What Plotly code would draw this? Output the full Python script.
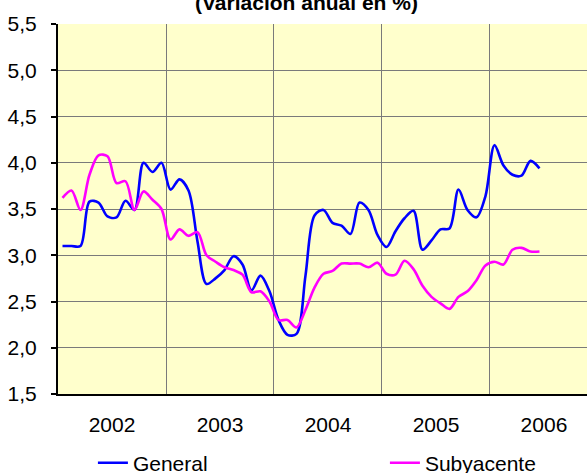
import plotly.graph_objects as go

# Monthly data Jan 2002 - Jun 2006 (annual % change)
months = list(range(54))  # month index from Jan 2002
general = [3.10, 3.10, 3.10, 3.58, 3.57, 3.42, 3.41, 3.59, 3.49, 4.00, 3.90, 4.00,
           3.71, 3.82, 3.70, 3.15, 2.69, 2.75, 2.84, 2.99, 2.90, 2.62, 2.78, 2.61,
           2.30, 2.14, 2.15, 2.78, 3.43, 3.49, 3.35, 3.32, 3.23, 3.57, 3.49, 3.22,
           3.09, 3.26, 3.40, 3.48, 3.06, 3.16, 3.28, 3.29, 3.71, 3.49, 3.41, 3.64,
           4.19, 3.97, 3.87, 3.86, 4.02, 3.94]
subyacente = [3.62, 3.70, 3.49, 3.87, 4.08, 4.07, 3.78, 3.80, 3.49, 3.69, 3.60, 3.50,
              3.17, 3.28, 3.21, 3.25, 3.00, 2.93, 2.87, 2.84, 2.79, 2.60, 2.61, 2.50,
              2.30, 2.30, 2.22, 2.41, 2.65, 2.80, 2.83, 2.91, 2.91, 2.91, 2.87, 2.92,
              2.80, 2.79, 2.94, 2.85, 2.67, 2.55, 2.48, 2.42, 2.55, 2.61, 2.73, 2.89,
              2.93, 2.90, 3.06, 3.08, 3.04, 3.04]
years = ["2002", "2003", "2004", "2005", "2006"]
year_starts = [0, 12, 24, 36, 48]
title_text = "<b>(Variación anual en %)</b>"

x = [m + 0.5 for m in months]
FONT = "Liberation Sans, Arial, sans-serif"

fig = go.Figure()
fig.add_trace(go.Scatter(x=x, y=general, name="General", mode="lines", legend="legend",
                         line=dict(color="#0000FF", width=2.6, shape="spline", smoothing=0.9)))
fig.add_trace(go.Scatter(x=x, y=subyacente, name="Subyacente", mode="lines", legend="legend2",
                         line=dict(color="#FF00FF", width=2.6, shape="spline", smoothing=0.9)))

leg_common = dict(orientation="h", xanchor="left",
                  yref="container", y=0.021, yanchor="middle",
                  font=dict(family=FONT, size=21, color="black"),
                  bgcolor="rgba(0,0,0,0)", borderwidth=0)

fig.update_layout(
    width=587, height=473,
    margin=dict(l=58, r=0, t=24, b=79, autoexpand=False),
    paper_bgcolor="white",
    plot_bgcolor="#FFFFCC",
    separators=",.",
    font=dict(family=FONT, size=21, color="black"),
    showlegend=True,
    legend=dict(x=0.066, **leg_common),
    legend2=dict(x=0.618, **leg_common),
)
fig.add_annotation(text=title_text, xref="paper", yref="paper", x=0.469, y=1,
                   xanchor="center", yanchor="bottom", yshift=8, showarrow=False,
                   font=dict(family=FONT, size=21, color="black"))

fig.update_xaxes(
    range=[0, 58.78],
    tickmode="array",
    tickvals=[s + 6 for s in year_starts],
    ticktext=years,
    ticks="", showgrid=False,
    minor=dict(tickmode="array", tickvals=year_starts[1:], showgrid=True,
               gridcolor="#7a7a7a", gridwidth=1, ticks=""),
    showline=True, linecolor="black", linewidth=2,
    zeroline=False, automargin=False,
    ticklabelstandoff=11,
    tickfont=dict(family=FONT, size=21, color="black"),
)
fig.update_yaxes(
    range=[1.5, 5.5], dtick=0.5, tick0=1.5, tickformat=".1f",
    showgrid=True, gridcolor="#7a7a7a", gridwidth=1,
    ticks="outside", ticklen=5, tickcolor="black", tickwidth=2,
    showline=True, linecolor="black", linewidth=2,
    zeroline=False, automargin=False,
    ticklabelstandoff=10,
    tickfont=dict(family=FONT, size=21, color="black"),
)

fig.write_html("out.html",
               config={"displayModeBar": False},
               post_script="document.body.style.margin='0';document.body.style.overflow='hidden';")
